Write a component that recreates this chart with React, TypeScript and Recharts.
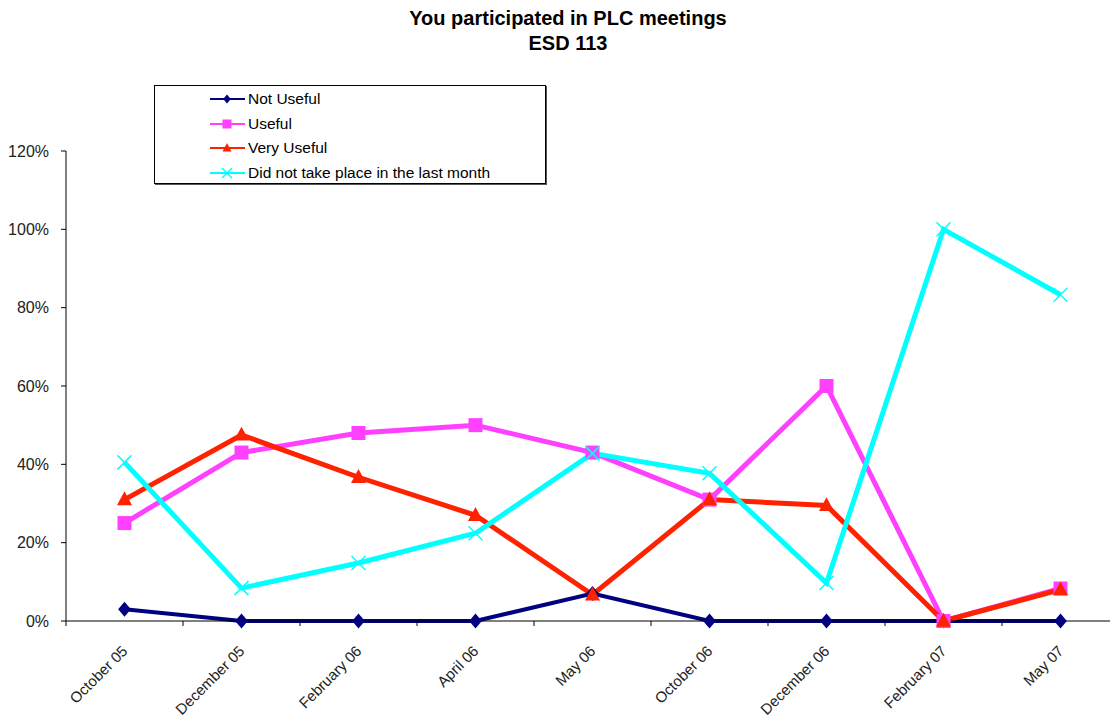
import React from "react"
import { LineChart, Line, XAxis, YAxis, Legend } from "recharts"

const categories = [
  "October 05",
  "December 05",
  "February 06",
  "April 06",
  "May 06",
  "October 06",
  "December 06",
  "February 07",
  "May 07",
]
const notUseful = [0.03, 0, 0, 0, 0.07, 0, 0, 0, 0]
const useful = [0.25, 0.43, 0.48, 0.5, 0.43, 0.31, 0.6, 0, 0.083]
const veryUseful = [0.31, 0.475, 0.367, 0.27, 0.067, 0.31, 0.295, 0, 0.08]
const didNotTakePlace = [0.405, 0.084, 0.148, 0.224, 0.428, 0.377, 0.097, 1.0, 0.833]
const yTicks = [0, 0.2, 0.4, 0.6, 0.8, 1.0, 1.2]

const data = categories.map((name, i) => ({
  name,
  notUseful: notUseful[i],
  useful: useful[i],
  veryUseful: veryUseful[i],
  didNot: didNotTakePlace[i],
}))

const FONT = "'Liberation Sans', Arial, sans-serif"

const series = [
  { key: "notUseful", label: "Not Useful", color: "#000080", width: 4, shape: "diamond" },
  { key: "useful", label: "Useful", color: "#FF40FF", width: 5, shape: "square" },
  { key: "veryUseful", label: "Very Useful", color: "#FF2200", width: 5, shape: "triangle" },
  { key: "didNot", label: "Did not take place in the last month", color: "#00FFFF", width: 5, shape: "x" },
]

function markerShape(shape: string, cx: number, cy: number, color: string, s: number) {
  if (shape === "diamond") {
    return <polygon points={`${cx},${cy - s} ${cx + s * 0.85},${cy} ${cx},${cy + s} ${cx - s * 0.85},${cy}`} fill={color} />
  }
  if (shape === "square") {
    return <rect x={cx - s} y={cy - s} width={s * 2} height={s * 2} fill={color} />
  }
  if (shape === "triangle") {
    return <polygon points={`${cx},${cy - s * 1.1} ${cx + s},${cy + s * 0.75} ${cx - s},${cy + s * 0.75}`} fill={color} />
  }
  return (
    <g stroke={color} strokeWidth={1.5}>
      <line x1={cx - s} y1={cy - s} x2={cx + s} y2={cy + s} />
      <line x1={cx - s} y1={cy + s} x2={cx + s} y2={cy - s} />
    </g>
  )
}

const makeDot = (shape: string, color: string, s: number) => (props: any) => {
  const { cx, cy, index } = props
  if (cx == null || cy == null) return <g key={`d-${index}`} />
  return <g key={`d-${shape}-${index}`}>{markerShape(shape, cx, cy, color, s)}</g>
}

const HALF_BAND = 58.5

const XTick = (props: any) => {
  const { x, y, payload } = props
  const tx = x + 4
  const ty = y + 23
  return (
    <g>
      <line x1={x - HALF_BAND} y1={y - 8} x2={x - HALF_BAND} y2={y - 3} stroke="#000" />
      <text
        x={tx}
        y={ty}
        textAnchor="end"
        fontSize={15}
        fontFamily={FONT}
        fill="#222"
        transform={`rotate(-45, ${tx}, ${ty})`}
      >
        {payload.value}
      </text>
    </g>
  )
}

const renderLegend = () => (
  <div
    style={{
      border: "1px solid #000",
      boxShadow: "1px 1px 0 #555",
      background: "#fff",
      width: 392,
      height: 99,
      boxSizing: "border-box",
      paddingTop: 1,
      fontFamily: FONT,
      fontSize: 15.5,
      color: "#000",
    }}
  >
    {series.map((s) => (
      <div key={s.key} style={{ display: "flex", alignItems: "center", height: 24.6, paddingLeft: 55 }}>
        <svg width={36} height={14}>
          <line x1={0} y1={7} x2={35} y2={7} stroke={s.color} strokeWidth={2} />
          {markerShape(s.shape, 17, 7, s.color, s.shape === "x" ? 5 : 4.5)}
        </svg>
        <span style={{ marginLeft: 2 }}>{s.label}</span>
      </div>
    ))}
  </div>
)

export default function App() {
  return (
    <div
      style={{
        position: "fixed",
        left: 0,
        top: 0,
        width: 1110,
        height: 719,
        overflow: "hidden",
        background: "#fff",
      }}
    >
      <div
        style={{
          position: "absolute",
          left: 0,
          width: 1136,
          top: 6,
          textAlign: "center",
          fontFamily: FONT,
          fontWeight: "bold",
          fontSize: 20,
          lineHeight: "25px",
          color: "#000",
        }}
      >
        You participated in PLC meetings
        <br />
        ESD 113
      </div>
      <LineChart
        width={1130}
        height={719}
        data={data}
        margin={{ top: 151, right: 11, bottom: 0, left: 10 }}
      >
        <XAxis
          dataKey="name"
          height={98}
          stroke="#000"
          tickLine={false}
          interval={0}
          padding={{ left: HALF_BAND, right: HALF_BAND }}
          tick={<XTick />}
        />
        <YAxis
          domain={[0, 1.2]}
          ticks={yTicks}
          width={56}
          stroke="#000"
          tickSize={5}
          tickMargin={12}
          tickFormatter={(v: number) => `${Math.round(v * 100)}%`}
          tick={{ fontSize: 16, fontFamily: FONT, fill: "#222" }}
          interval={0}
        />
        <Legend
          content={renderLegend}
          layout="vertical"
          align="center"
          verticalAlign="middle"
          wrapperStyle={{ position: "absolute", left: 154, top: 85, width: 392, height: 99 }}
        />
        {series.map((s) => (
          <Line
            key={s.key}
            type="linear"
            dataKey={s.key}
            name={s.label}
            stroke={s.color}
            strokeWidth={s.width}
            dot={makeDot(s.shape, s.color, s.shape === "square" ? 7 : s.shape === "x" ? 7 : 7.5)}
            activeDot={false}
            isAnimationActive={false}
          />
        ))}
      </LineChart>
    </div>
  )
}
